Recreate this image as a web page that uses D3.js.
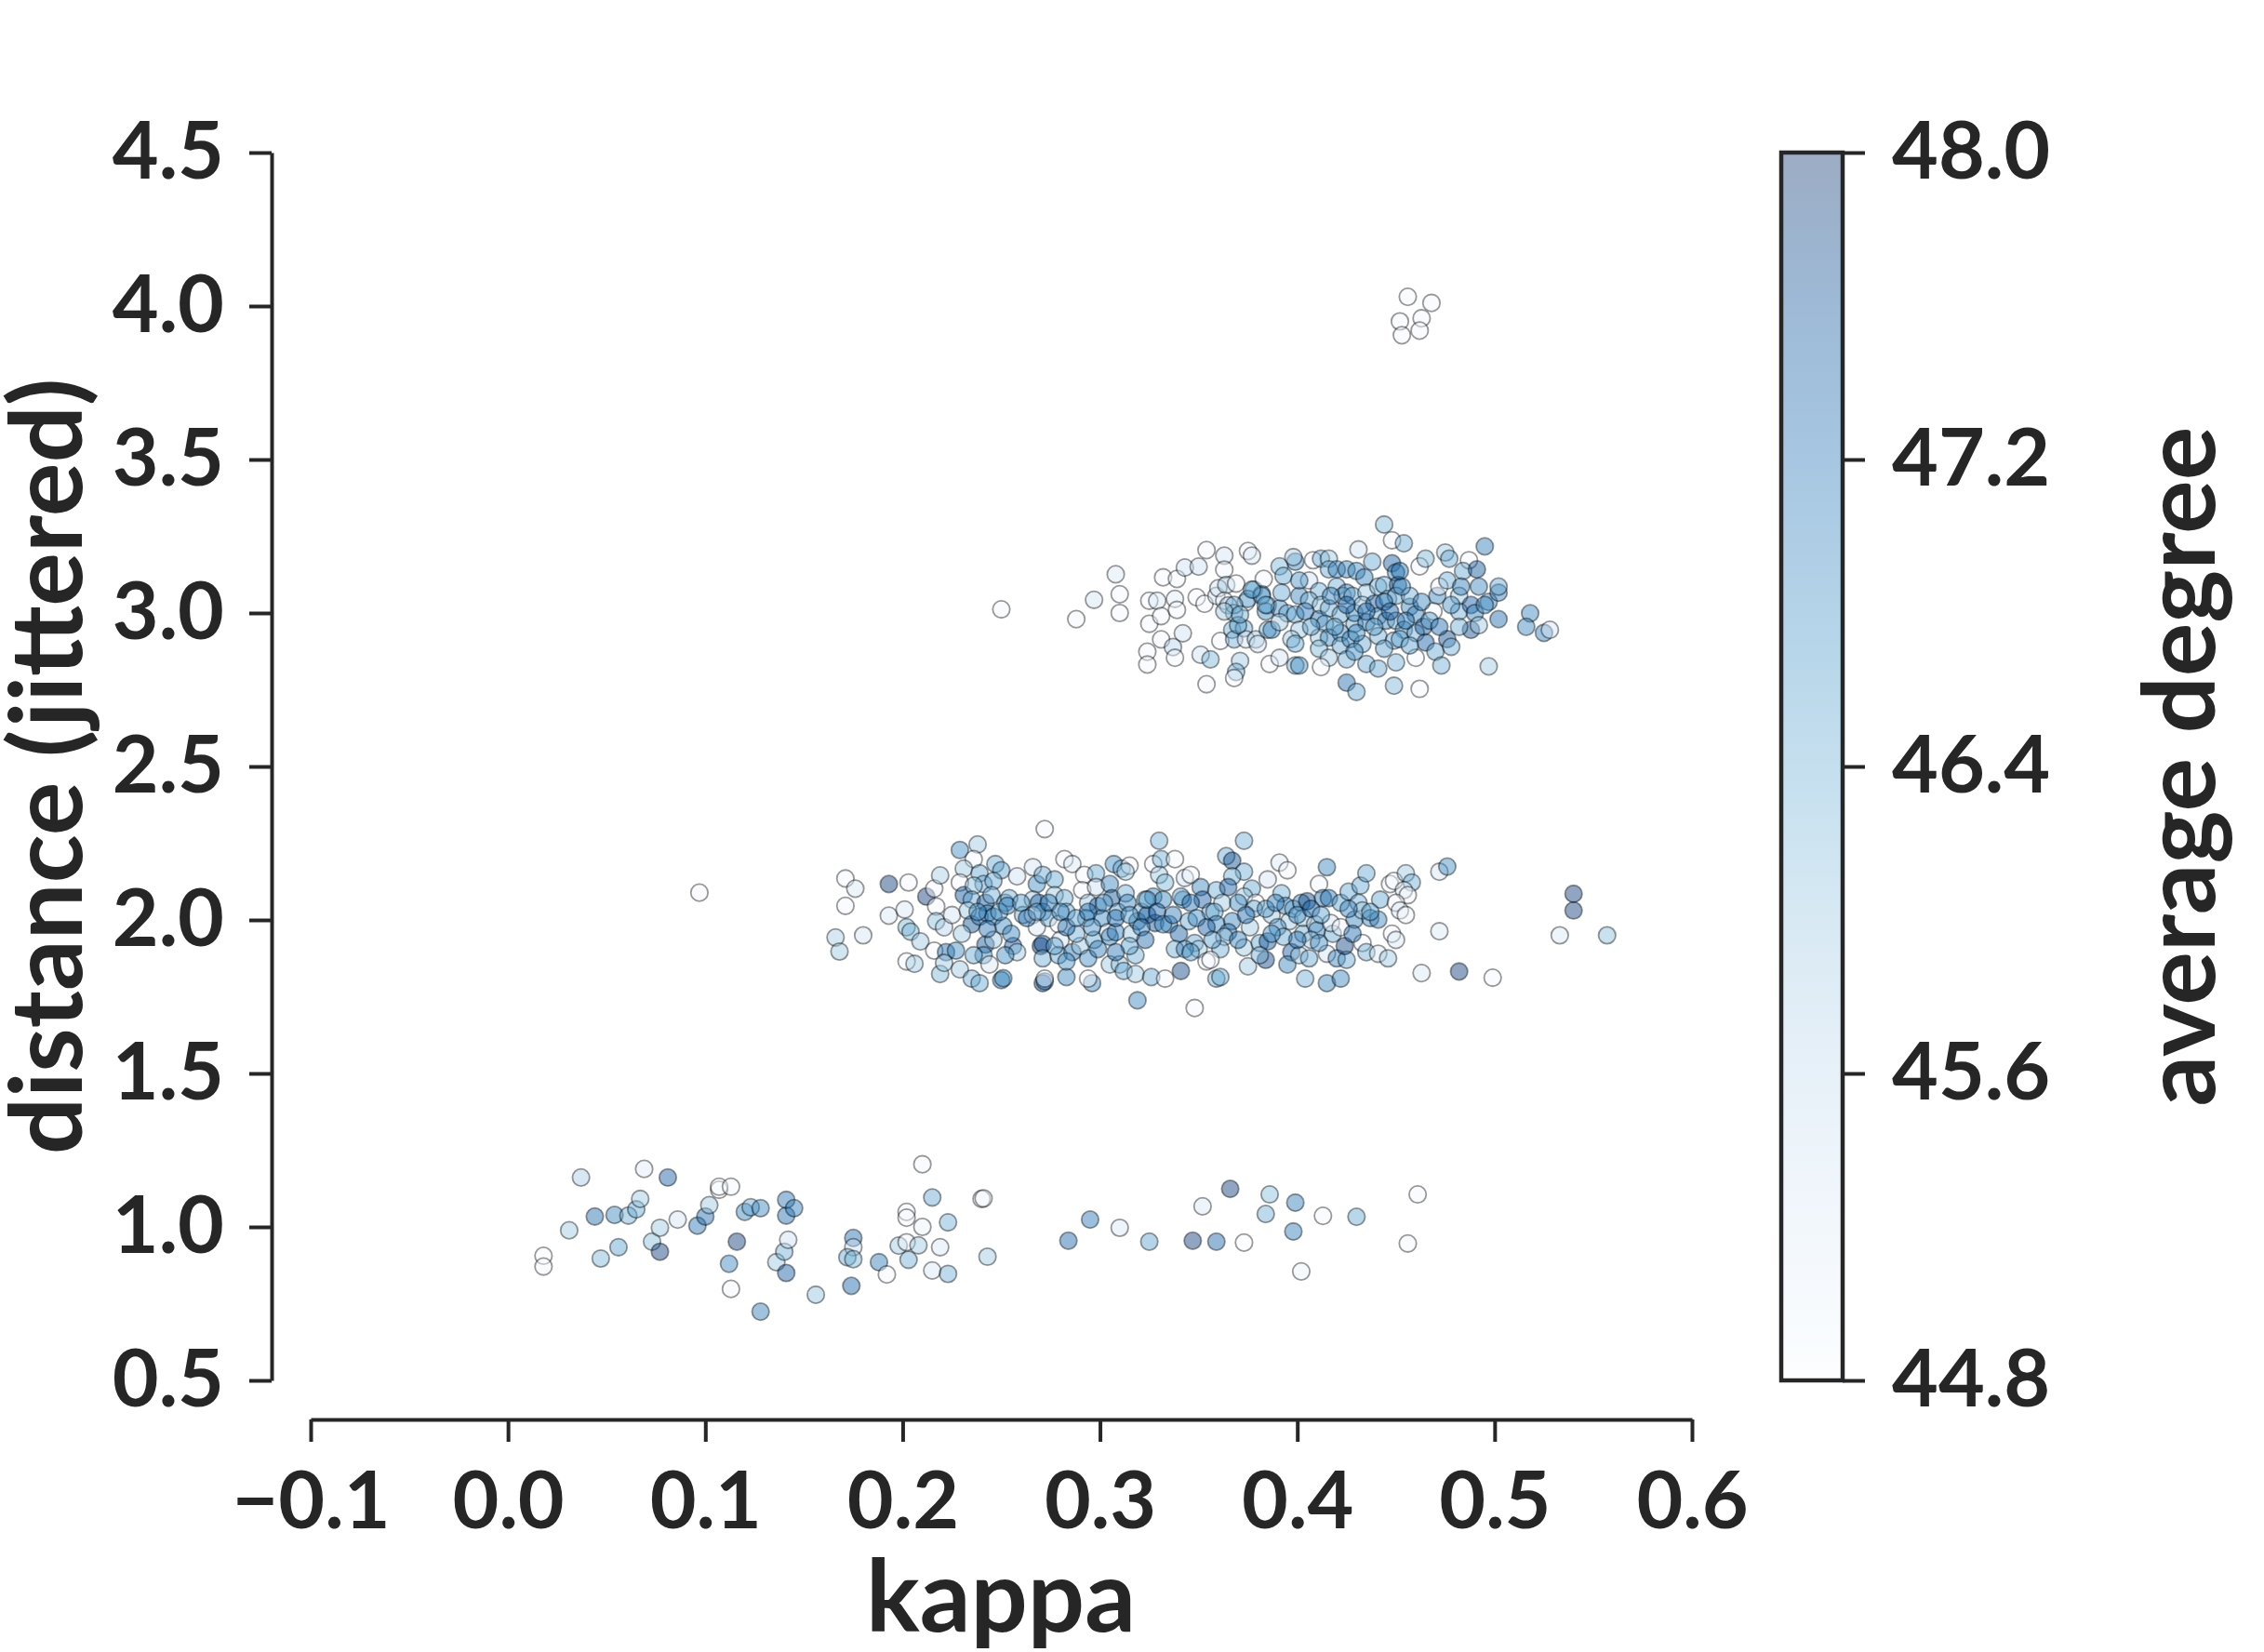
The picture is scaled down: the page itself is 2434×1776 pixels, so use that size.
<!DOCTYPE html>
<html>
<head>
<meta charset="utf-8">
<script src="https://cdnjs.cloudflare.com/ajax/libs/d3/7.8.5/d3.min.js"></script>
<style>
    body { margin: 0; background: #fff; }
    text { font-family: Lato, 'Open Sans', sans-serif; font-weight: 700; fill: #262626; }
</style>
</head>
<body>
<svg id="chart" width="2434" height="1776"></svg>
<script>
// data: [kappa, distance (jittered), average degree]
var nearPoints = [
    [0.018,0.906,44.8],[0.018,0.871,44.9],[0.031,0.989,46.0],[0.037,1.161,45.9],[0.044,1.034,47.3],[0.047,0.897,46.3],
    [0.054,1.039,47.0],[0.056,0.934,46.6],[0.061,1.037,46.4],[0.065,1.057,46.5],[0.067,1.091,46.0],[0.069,1.189,45.2],
    [0.073,0.952,46.2],[0.077,0.919,47.9],[0.077,0.997,46.0],[0.081,1.161,47.5],[0.086,1.024,45.4],[0.096,1.004,47.2],
    [0.100,1.034,47.3],[0.102,1.071,46.0],[0.107,1.121,44.8],[0.107,1.131,44.8],[0.113,1.131,44.9],[0.116,0.952,47.9],
    [0.112,0.880,47.0],[0.113,0.798,44.9],[0.120,1.049,47.0],[0.123,1.064,46.5],[0.128,1.061,47.0],[0.128,0.724,47.1],
    [0.136,0.885,46.0],[0.140,0.919,46.4],[0.141,1.037,47.3],[0.141,1.088,47.2],[0.141,0.850,47.5],[0.142,0.958,45.5],
    [0.145,1.061,47.1],[0.156,0.779,46.1],[0.174,0.808,47.4],[0.175,0.964,47.3],[0.175,0.934,45.5],[0.172,0.901,46.5],
    [0.175,0.895,46.3],[0.188,0.885,47.1],[0.192,0.845,44.9],[0.198,0.939,46.0],[0.202,1.049,44.9],[0.202,1.030,44.9],
    [0.202,0.950,45.0],[0.203,0.893,46.4],[0.208,0.940,46.0],[0.210,1.000,45.0],[0.210,1.204,44.9],[0.215,1.096,46.5],
    [0.215,0.858,45.3],[0.219,0.934,45.3],[0.223,1.015,46.4],[0.223,0.847,46.4],[0.240,1.091,44.9],[0.241,1.093,44.9],
    [0.243,0.903,46.0],[0.284,0.955,47.4],[0.295,1.024,47.2],[0.310,0.997,45.3],[0.325,0.952,46.6],[0.347,0.955,47.9],
    [0.359,0.952,47.4],[0.373,0.949,44.8],[0.352,1.067,45.3],[0.366,1.124,47.9],[0.386,1.106,46.2],[0.384,1.042,46.4],
    [0.399,1.079,47.1],[0.398,0.985,47.1],[0.402,0.855,45.0],[0.413,1.036,44.9],[0.430,1.033,46.5],[0.461,1.106,44.9],
    [0.456,0.946,44.9]
];

var midPoints = [
    [0.097,2.089,44.9],
    [0.171,2.135,44.9],[0.176,2.102,45.3],[0.171,2.046,44.9],[0.166,1.943,45.9],[0.168,1.897,46.0],[0.180,1.950,45.4],
    [0.193,2.117,47.9],[0.203,2.122,44.9],[0.193,2.014,45.3],[0.201,2.034,45.3],[0.212,2.076,47.9],[0.216,2.102,44.9],
    [0.219,2.145,45.9],[0.217,2.044,44.9],[0.202,1.976,46.3],[0.204,1.962,46.3],[0.209,1.930,46.0],[0.202,1.865,44.9],
    [0.206,1.857,46.0],[0.216,1.900,44.9],[0.219,1.824,46.3],[0.217,1.996,46.2],[0.221,1.976,45.8],[0.225,2.016,45.4],
    [0.222,1.895,47.3],[0.227,1.900,46.9],[0.221,1.860,46.0],[0.229,1.839,46.0],[0.229,2.228,46.9],[0.238,2.246,46.0],
    [0.236,2.198,44.9],[0.231,2.167,46.0],[0.229,2.122,44.9],[0.231,2.081,47.6],[0.239,2.152,46.5],[0.241,2.117,46.5],
    [0.236,2.112,46.2],[0.235,2.066,46.5],[0.242,2.056,47.6],[0.233,2.031,46.0],[0.235,1.986,47.6],[0.239,2.011,47.0],
    [0.230,1.955,46.0],[0.243,2.021,47.1],[0.246,2.011,47.0],[0.247,2.182,46.5],[0.250,2.162,46.6],[0.246,2.127,46.5],
    [0.245,2.081,46.4],[0.242,1.920,47.6],[0.246,1.935,46.0],[0.241,1.885,46.9],[0.236,1.885,46.5],[0.244,1.855,45.3],
    [0.235,1.809,46.4],[0.239,1.794,46.5],[0.250,1.804,47.1],[0.251,1.810,46.9],[0.251,1.981,46.9],[0.252,2.056,46.5],
    [0.254,2.071,46.4],[0.258,2.142,45.5],[0.256,1.915,47.5],[0.258,1.895,46.0],[0.252,1.885,46.9],[0.261,2.016,46.4],
    [0.266,2.172,45.4],[0.272,2.296,44.9],[0.268,2.117,46.9],[0.271,2.147,46.5],[0.266,2.066,46.0],[0.269,2.056,47.5],
    [0.271,2.026,47.0],[0.266,2.016,44.9],[0.268,1.976,45.3],[0.274,2.006,46.5],[0.270,1.915,47.9],[0.271,1.922,47.6],
    [0.271,1.875,46.4],[0.271,1.794,47.6],[0.272,1.800,47.2],[0.272,1.809,44.9],[0.277,2.132,46.5],[0.277,2.081,46.0],
    [0.282,2.198,44.9],[0.286,2.182,45.3],[0.282,2.071,46.4],[0.279,1.986,44.9],[0.283,2.026,46.5],[0.280,1.935,45.4],
    [0.279,1.885,46.5],[0.283,1.814,47.0],[0.286,1.895,47.2],[0.290,1.915,46.0],[0.288,1.955,46.4],[0.292,2.147,44.9],
    [0.291,2.097,44.9],[0.294,2.056,46.0],[0.293,2.006,46.5],[0.294,1.875,46.9],[0.296,1.794,47.0],[0.294,1.809,44.9],
    [0.298,2.152,46.5],[0.298,2.107,45.5],[0.299,2.046,47.5],[0.297,1.935,46.5],[0.301,2.006,46.9],[0.304,1.960,45.5],
    [0.305,2.117,47.0],[0.307,2.182,46.9],[0.306,2.071,47.6],[0.305,1.945,47.1],[0.305,1.855,46.0],[0.310,1.855,46.1],
    [0.311,2.167,46.5],[0.315,2.177,44.9],[0.313,2.157,46.0],[0.309,2.026,46.5],[0.308,1.960,47.0],[0.313,2.087,46.4],
    [0.314,2.056,47.0],[0.312,1.834,46.5],[0.316,1.955,46.0],[0.318,1.885,46.4],[0.318,1.824,46.0],[0.319,1.738,47.0],
    [0.319,1.996,47.2],[0.321,2.026,46.5],[0.323,2.066,46.4],[0.324,2.016,47.5],[0.326,1.814,46.5],[0.327,2.182,44.9],
    [0.327,2.076,47.0],[0.328,1.990,47.6],[0.330,2.258,46.4],[0.331,2.198,46.4],[0.330,2.147,46.0],[0.333,2.122,46.3],
    [0.332,2.066,47.0],[0.333,1.809,44.9],[0.338,2.198,44.9],[0.335,1.986,47.0],[0.340,1.955,47.5],[0.341,1.834,47.8],
    [0.338,1.905,46.4],[0.343,2.137,45.5],[0.346,2.147,44.9],[0.342,2.066,47.0],[0.348,1.713,44.9],[0.345,1.996,46.5],
    [0.348,1.925,46.5],[0.351,2.107,47.0],[0.352,2.066,47.5],[0.350,1.905,46.0],[0.354,1.865,44.9],[0.356,2.026,46.4],
    [0.359,1.809,46.4],
    [0.373,2.258,46.4],[0.364,2.208,46.5],[0.367,2.193,47.7],[0.373,2.157,46.4],[0.367,2.142,46.4],[0.359,2.097,46.4],
    [0.365,2.107,47.5],[0.377,2.102,46.5],[0.373,2.076,46.0],[0.362,2.056,46.0],[0.379,2.056,44.9],[0.378,2.036,46.5],
    [0.358,2.026,46.5],[0.367,1.996,47.0],[0.359,1.986,46.9],[0.365,1.960,47.2],[0.376,1.976,46.0],[0.363,1.945,46.0],
    [0.361,1.905,46.4],[0.356,1.870,44.9],[0.373,1.910,46.0],[0.375,1.849,46.0],[0.361,1.814,46.5],[0.385,2.132,45.4],
    [0.391,2.187,45.3],[0.395,2.162,44.9],[0.392,2.087,46.4],[0.387,2.016,46.0],[0.381,1.925,46.5],[0.385,1.930,47.6],
    [0.384,1.870,47.8],[0.381,1.885,46.4],[0.394,2.046,47.0],[0.396,1.996,46.0],[0.390,1.976,46.9],[0.393,1.945,46.5],
    [0.397,1.895,47.5],[0.395,1.855,47.0],[0.398,2.036,46.5],[0.402,2.056,47.0],[0.405,2.061,47.8],[0.403,2.006,46.0],
    [0.403,1.955,46.4],[0.401,1.885,46.0],[0.406,1.875,46.5],[0.404,1.809,46.4],[0.409,1.986,46.0],[0.410,1.966,47.0],
    [0.407,1.935,46.0],[0.411,2.117,44.9],[0.415,2.172,47.0],[0.413,2.071,47.1],[0.416,2.071,47.2],[0.415,1.794,47.0],
    [0.422,1.809,47.0],[0.415,1.890,45.4],[0.418,1.955,46.5],[0.417,1.990,45.4],[0.422,2.056,46.6],[0.422,1.976,44.9],
    [0.420,1.875,47.0],[0.425,1.870,46.5],[0.424,1.915,47.8],[0.426,2.092,46.5],[0.429,2.001,47.0],[0.432,2.112,46.5],
    [0.435,2.152,46.5],[0.431,2.056,46.4],[0.433,2.031,46.0],[0.433,1.925,44.9],[0.435,1.895,46.4],[0.437,2.006,47.0],
    [0.441,2.001,47.0],[0.442,2.066,46.5],[0.441,1.890,45.3],[0.446,1.875,46.0],[0.448,1.955,44.9],[0.450,1.935,45.3],
    [0.447,2.117,44.9],[0.449,2.127,44.9],[0.455,2.152,46.0],[0.458,2.122,46.4],[0.454,2.097,45.3],[0.456,2.081,44.9],
    [0.450,2.056,44.9],[0.452,2.031,45.3],[0.455,2.016,44.9],[0.472,2.157,45.4],[0.476,2.174,46.9],[0.472,1.963,45.3],
    [0.463,1.827,45.3],[0.482,1.832,47.9],[0.499,1.812,44.9],[0.540,2.085,47.9],[0.540,2.031,47.9],[0.533,1.950,45.3],
    [0.557,1.950,46.2]
];

// denser core of the middle band
var midCorePoints = [
    [0.238,2.026,46.8],[0.243,1.971,47.2],[0.249,2.026,46.6],[0.253,2.046,47.0],[0.260,2.056,46.7],[0.263,2.006,47.3],
    [0.268,2.026,46.5],[0.274,2.056,47.1],[0.280,2.026,46.9],[0.283,1.976,47.4],[0.288,2.006,46.6],[0.294,2.026,47.2],
    [0.296,1.976,46.8],[0.302,2.056,46.5],[0.308,2.006,47.3],[0.315,2.016,46.7],[0.321,1.976,47.0],[0.324,2.066,46.6],
    [0.329,2.026,47.4],[0.332,1.986,46.8],[0.337,2.016,47.1],[0.341,2.076,46.5],[0.346,2.056,47.2],[0.349,2.006,46.9],
    [0.354,1.976,47.5],[0.357,1.935,46.6],[0.343,1.905,47.0],[0.346,1.895,46.7],[0.323,1.935,47.3],[0.315,1.915,46.6],
    [0.299,1.905,47.1],[0.283,1.865,46.8],[0.255,1.955,47.0],[0.277,1.915,46.6],[0.308,1.895,47.2],
    [0.370,2.056,46.9],[0.374,2.016,47.3],[0.384,2.036,46.7],[0.389,2.056,47.1],[0.400,2.016,46.8],[0.407,2.036,47.4],
    [0.412,2.016,46.6],[0.426,2.036,47.0],[0.437,2.026,46.7],[0.400,1.935,47.2],[0.387,1.955,46.8],[0.370,1.935,47.0],
    [0.411,1.925,46.9],[0.428,1.955,47.3]
];

var farPoints = [
    [0.250,3.012,44.9],[0.288,2.980,44.9],[0.297,3.043,45.4],[0.308,3.126,45.3],[0.310,3.061,44.9],[0.310,3.000,44.9],
    [0.325,3.040,44.9],[0.329,3.040,45.3],[0.325,2.965,44.9],[0.332,3.116,44.9],[0.331,2.990,44.9],[0.331,2.914,44.9],
    [0.324,2.874,44.9],[0.324,2.832,44.9],[0.339,3.111,44.9],[0.338,3.046,45.2],[0.339,3.010,44.9],[0.343,3.148,45.5],
    [0.342,2.934,45.5],[0.337,2.889,45.8],[0.338,2.854,44.9],[0.350,3.151,45.5],[0.349,3.051,44.9],[0.354,3.205,44.9],
    [0.353,3.030,44.9],[0.351,2.864,45.5],[0.356,2.849,46.3],[0.354,2.768,44.9],[0.359,3.056,45.4],[0.360,3.081,45.4],
    [0.363,3.187,45.4],[0.363,3.141,44.9],[0.364,3.091,45.9],[0.363,3.040,44.9],[0.365,3.025,45.8],[0.361,2.909,44.9],
    [0.368,3.000,46.3],[0.367,2.945,46.4],[0.368,2.914,46.4],[0.369,3.096,44.9],[0.371,2.844,46.0],[0.369,2.808,46.4],
    [0.368,2.788,44.9],[0.373,2.950,46.4],[0.374,3.035,44.9],[0.374,2.914,45.4],[0.375,3.202,44.9],[0.377,3.187,45.3],
    [0.378,3.076,46.3],[0.379,2.914,46.0],[0.380,2.899,45.4],[0.383,3.111,44.9],[0.382,3.061,46.8],[0.385,3.025,46.0],
    [0.385,2.945,46.4],[0.386,2.834,44.9],[0.375,3.046,46.8],[0.382,3.056,46.5],[0.384,3.005,46.9],[0.391,3.015,46.8],
    [0.387,2.945,47.0],[0.368,3.026,46.4],[0.363,3.005,46.0],[0.399,3.167,47.0],[0.370,2.960,46.6],
    [0.391,3.152,46.3],[0.398,3.182,45.9],[0.393,3.121,46.5],[0.392,3.066,46.5],[0.401,3.056,47.0],[0.395,2.999,46.5],
    [0.391,2.970,46.0],[0.399,2.995,46.5],[0.401,2.945,46.0],[0.397,2.915,46.0],[0.399,2.900,46.5],[0.391,2.854,45.4],
    [0.399,2.829,46.4],[0.401,2.829,46.8],[0.406,3.106,45.5],[0.408,3.172,44.9],[0.411,3.071,46.4],[0.412,3.177,46.5],
    [0.416,3.177,46.0],[0.416,3.142,46.5],[0.406,3.041,46.4],[0.412,3.026,46.0],[0.411,2.980,47.2],[0.416,3.015,46.4],
    [0.414,2.965,46.4],[0.411,2.920,46.0],[0.416,2.920,46.9],[0.411,2.884,46.3],[0.416,2.854,46.0],[0.412,2.824,44.9],
    [0.420,3.142,47.0],[0.425,3.142,47.0],[0.420,3.086,46.4],[0.423,3.056,46.0],[0.422,2.995,46.5],[0.425,3.066,47.0],
    [0.428,3.056,46.4],[0.422,2.935,46.9],[0.422,2.894,46.5],[0.427,2.915,47.0],[0.425,2.849,46.4],[0.425,2.773,47.3],
    [0.430,2.743,46.5],[0.429,2.965,46.4],[0.429,3.000,46.9],[0.431,3.207,45.5],[0.430,3.137,46.9],[0.434,3.116,47.0],
    [0.435,3.066,46.0],[0.433,3.026,46.0],[0.435,2.970,47.0],[0.433,2.899,46.5],[0.435,2.834,46.5],[0.438,3.167,46.5],
    [0.439,3.030,47.5],[0.441,3.086,46.4],[0.441,2.990,46.4],[0.441,2.925,46.4],[0.441,2.819,46.5],[0.444,3.288,46.3],
    [0.448,3.162,47.5],[0.448,3.237,44.9],[0.454,3.227,46.5],[0.450,3.132,47.0],[0.444,3.091,46.4],[0.451,3.091,47.5],
    [0.446,3.046,46.4],[0.450,3.056,46.5],[0.445,2.975,47.0],[0.450,2.975,46.4],[0.454,2.945,46.9],[0.449,2.910,46.5],
    [0.450,2.839,46.4],[0.449,2.763,46.3],[0.452,2.915,46.5],[0.457,3.020,47.0],[0.457,3.056,46.4],[0.460,2.995,47.0],
    [0.460,2.935,46.4],[0.460,2.854,44.9],[0.462,2.753,44.9],[0.462,3.152,44.9],[0.464,2.955,47.6],[0.465,2.904,47.5],
    [0.465,3.177,46.3],[0.471,3.056,47.0],[0.469,3.005,44.9],[0.472,3.086,44.9],[0.470,2.874,46.5],[0.473,2.829,46.4],
    [0.475,3.197,46.0],[0.476,3.106,46.4],[0.477,3.177,46.5],[0.476,2.915,47.7],[0.478,2.890,46.4],[0.482,3.005,46.4],
    [0.482,3.056,46.0],[0.487,3.172,44.9],[0.484,3.137,46.5],[0.491,3.142,47.6],[0.488,3.026,47.5],[0.490,3.000,47.0],
    [0.492,3.086,47.0],[0.495,3.217,47.1],[0.497,3.036,47.0],[0.502,3.066,47.1],[0.502,3.086,46.5],[0.502,2.980,47.3],
    [0.488,2.945,47.7],[0.492,2.960,46.0],[0.482,2.955,46.4],[0.497,2.826,46.0],[0.518,2.999,47.0],[0.516,2.955,47.0],
    [0.525,2.935,47.1],[0.528,2.945,45.4]
];

// denser core of the upper band
var farCorePoints = [
    [0.401,3.106,46.8],[0.404,3.005,47.2],[0.407,2.955,46.6],[0.417,3.056,47.0],[0.419,2.955,46.7],[0.425,3.026,47.4],
    [0.430,2.935,46.9],[0.435,3.005,47.3],[0.439,2.955,46.6],[0.444,3.036,47.1],[0.447,3.005,47.5],[0.453,3.086,46.8],
    [0.455,2.975,47.2],[0.457,2.894,46.6],[0.463,3.036,47.0],[0.467,2.975,46.7],[0.472,2.955,47.3],[0.478,3.026,46.8],
    [0.483,3.086,47.1],[0.444,2.884,46.6],[0.429,2.874,46.9],[0.384,3.026,46.5],[0.377,3.076,46.6],[0.371,2.995,46.4],
    [0.452,3.137,47.2],[0.495,3.026,46.9]
];

var farthestPoints = [
    [0.456,4.030,44.9],[0.468,4.010,44.9],[0.463,3.960,44.9],[0.452,3.950,44.9],[0.453,3.905,44.9],[0.462,3.920,44.9]
];

var xTicks = [-0.1, 0.0, 0.1, 0.2, 0.3, 0.4, 0.5, 0.6];
var yTicks = [0.5, 1.0, 1.5, 2.0, 2.5, 3.0, 3.5, 4.0, 4.5];
var colorTicks = [44.8, 45.6, 46.4, 47.2, 48.0];
var colorDomain = [44.8, 48.0];

// layout
var dark = '#262626';
var svg = d3.select('#chart');

// scales
var x = d3.scaleLinear().domain([-0.1, 0.6]).range([334, 1819]);
var y = d3.scaleLinear().domain([0.5, 4.5]).range([1484, 164]);
var color = d3.scaleSequential(d3.interpolateBlues).domain(colorDomain);
var cy = d3.scaleLinear().domain(colorDomain).range([1484, 164]);

// style an axis group
function styleAxis(g) {
    g.selectAll('path.domain').attr('stroke', dark).attr('stroke-width', 4);
    g.selectAll('.tick line').attr('stroke', dark).attr('stroke-width', 4);
    g.selectAll('.tick text')
        .attr('font-family', 'Lato, sans-serif')
        .attr('font-weight', 700)
        .attr('font-size', 86)
        .attr('fill', dark);
}

// x axis
svg.append('g')
    .attr('transform', 'translate(0,1526)')
    .call(d3.axisBottom(x).tickValues(xTicks).tickFormat(d3.format('.1f'))
        .tickSize(24).tickSizeOuter(0).tickPadding(32))
    .call(styleAxis);

// y axis
svg.append('g')
    .attr('transform', 'translate(292,0)')
    .call(d3.axisLeft(y).tickValues(yTicks).tickFormat(d3.format('.1f'))
        .tickSize(24).tickSizeOuter(0).tickPadding(27))
    .call(styleAxis);

// points
var allPoints = nearPoints.concat(midPoints, midCorePoints, farPoints, farCorePoints, farthestPoints);
svg.append('g')
    .selectAll('circle')
    .data(allPoints)
    .enter().append('circle')
    .attr('cx', function(d) { return x(d[0]); })
    .attr('cy', function(d) { return y(d[1]); })
    .attr('r', 9.2)
    .attr('fill', function(d) { return color(d[2]); })
    .attr('fill-opacity', 0.45)
    .attr('stroke', '#000')
    .attr('stroke-opacity', 0.4)
    .attr('stroke-width', 1.8);

// axis titles
svg.append('text')
    .attr('x', 1076).attr('y', 1754)
    .attr('text-anchor', 'middle')
    .attr('font-size', 108)
    .text('kappa');

svg.append('text')
    .attr('transform', 'translate(88,824) rotate(-90)')
    .attr('text-anchor', 'middle')
    .attr('font-size', 108)
    .text('distance (jittered)');

// colorbar gradient
var grad = svg.append('defs').append('linearGradient')
    .attr('id', 'cbar')
    .attr('x1', 0).attr('y1', 1).attr('x2', 0).attr('y2', 0);
grad.selectAll('stop')
    .data(d3.range(0, 1.0001, 0.05))
    .enter().append('stop')
    .attr('offset', function(t) { return t; })
    .attr('stop-color', function(t) { return d3.interpolateBlues(t); })
    .attr('stop-opacity', 0.4);

svg.append('rect')
    .attr('x', 1915).attr('y', cy(48.0))
    .attr('width', 66).attr('height', cy(44.8) - cy(48.0))
    .attr('fill', 'url(#cbar)')
    .attr('stroke', dark)
    .attr('stroke-width', 4.5);

// colorbar axis
var cbarAxis = svg.append('g')
    .attr('transform', 'translate(1981,0)')
    .call(d3.axisRight(cy).tickValues(colorTicks).tickFormat(d3.format('.1f'))
        .tickSize(24).tickSizeOuter(0).tickPadding(29))
    .call(styleAxis);
cbarAxis.select('path.domain').remove();

// colorbar title
svg.append('text')
    .attr('transform', 'translate(2381,824) rotate(-90)')
    .attr('text-anchor', 'middle')
    .attr('font-size', 108)
    .text('average degree');
</script>
</body>
</html>
